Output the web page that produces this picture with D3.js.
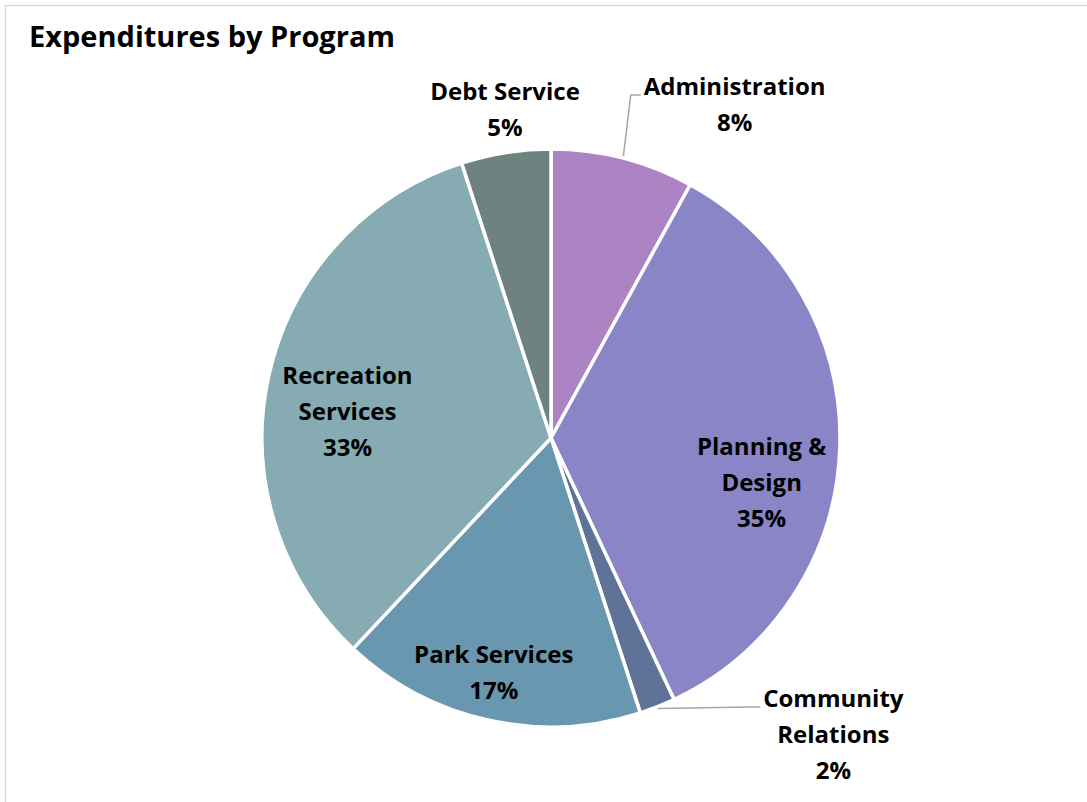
<!DOCTYPE html>
<html>
<head>
<meta charset="utf-8">
<script src="https://cdn.jsdelivr.net/npm/d3@7"></script>
<style>
  html, body { margin: 0; padding: 0; background: #fff; }
  svg { display: block; }
  text { font-family: "Open Sans", Lato, sans-serif; font-weight: 700; fill: #000; }
</style>
</head>
<body>
<script>
// Expenditures by program, share of total (%)
const programs = ["Administration", "Planning & Design", "Community Relations", "Park Services", "Recreation Services", "Debt Service"];
const shares = [8, 35, 2, 17, 33, 5];
const sliceColors = ["#ad84c3", "#8985c7", "#5f7399", "#6897af", "#86abb3", "#6d8281"];
// Label text broken into lines (last line holds the percentage)
const labelLines = [
  ["Administration"],
  ["Planning &", "Design"],
  ["Community", "Relations"],
  ["Park Services"],
  ["Recreation", "Services"],
  ["Debt Service"]
];

const W = 1087, H = 802;
const cx = 551, cy = 438, R = 289;

// Label placement: radius factor and nudge relative to the slice's centroid
const labelLayout = {
  "Administration":      { k: 1.15, dx: 101, dy: -11, leader: true },
  "Planning & Design":   { k: 0.75, dx: -6,  dy: 38 },
  "Community Relations": { k: 1.15, dx: 160, dy: -12, leader: true },
  "Park Services":       { k: 0.75, dx: -10, dy: 23 },
  "Recreation Services": { k: 0.75, dx: 8,   dy: 21 },
  "Debt Service":        { k: 1.15, dx: 6,   dy: 0 }
};

const svg = d3.select("body").append("svg").attr("width", W).attr("height", H);

// chart frame
svg.append("rect")
  .attr("x", 5.5).attr("y", 5.5)
  .attr("width", W + 20).attr("height", H + 20)
  .attr("fill", "#fff").attr("stroke", "#d9d9d9").attr("stroke-width", 1.5);

svg.append("text")
  .attr("x", 29).attr("y", 47)
  .style("font-size", "29px")
  .text("Expenditures by Program");

const data = programs.map((p, i) => ({ name: p, value: shares[i], color: sliceColors[i], lines: labelLines[i] }));

const pie = d3.pie().value(d => d.value).sort(null);
const arcs = pie(data);
const arc = d3.arc().innerRadius(0).outerRadius(R);

const g = svg.append("g").attr("transform", `translate(${cx},${cy})`);

g.selectAll("path.slice")
  .data(arcs)
  .join("path")
  .attr("class", "slice")
  .attr("d", arc)
  .attr("fill", d => d.data.color)
  .attr("stroke", "#fff")
  .attr("stroke-width", 3.5)
  .attr("stroke-linejoin", "round");

const fs = 24, lh = 36;
const midAngle = d => (d.startAngle + d.endAngle) / 2;

arcs.forEach(d => {
  const lay = labelLayout[d.data.name];
  const a = midAngle(d);
  const lr = R * lay.k;
  const ax = Math.sin(a) * lr + lay.dx;
  const ay = -Math.cos(a) * lr + lay.dy;
  const lines = d.data.lines.concat([d.data.value + "%"]);
  const n = lines.length;
  const t = g.append("text")
    .attr("text-anchor", "middle")
    .style("font-size", fs + "px");
  lines.forEach((ln, i) => {
    t.append("tspan")
      .attr("x", ax)
      .attr("y", ay + (i - (n - 1) / 2) * lh + 8)
      .text(ln);
  });
  if (lay.leader) {
    const bb = t.node().getBBox();
    const sx = Math.sin(a) * (R + 2), sy = -Math.cos(a) * (R + 2);
    const ex = bb.x - 3, ey = ay - ((n - 1) / 2) * lh + 8;
    g.append("polyline")
      .attr("points", [[sx, sy], [ex - 10, ey], [ex, ey]].map(p => p.join(",")).join(" "))
      .attr("fill", "none")
      .attr("stroke", "#a6a6a6")
      .attr("stroke-width", 1.5);
  }
});
</script>
</body>
</html>
